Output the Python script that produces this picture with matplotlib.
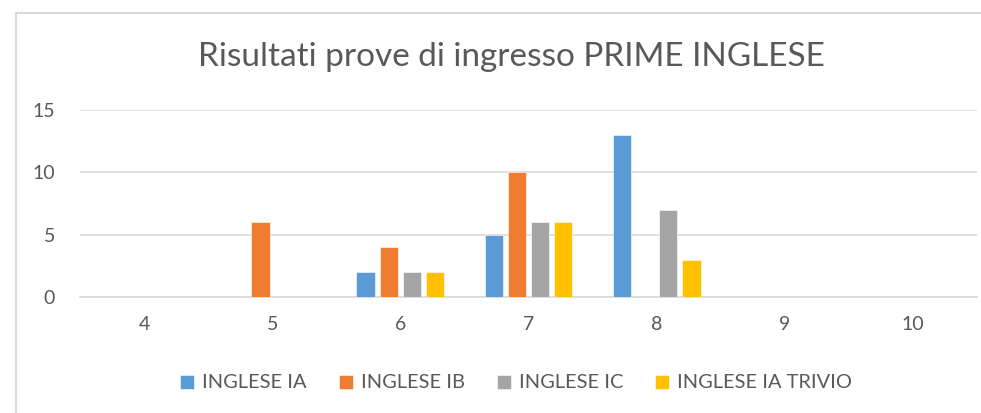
import matplotlib
matplotlib.use("Agg")
import matplotlib.pyplot as plt
import numpy as np
from matplotlib.lines import Line2D

categories = ["4", "5", "6", "7", "8", "9", "10"]
series_names = ["INGLESE IA", "INGLESE IB", "INGLESE IC", "INGLESE IA TRIVIO"]
ia = [0, 0, 2, 5, 13, 0, 0]
ib = [0, 6, 4, 10, 0, 0, 0]
ic = [0, 0, 2, 6, 7, 0, 0]
trivio = [0, 0, 2, 6, 3, 0, 0]
colors = ["#5B9BD5", "#ED7D31", "#A5A5A5", "#FFC000"]
title = "Risultati prove di ingresso PRIME INGLESE"

plt.rcParams['font.family'] = ['Lato', 'DejaVu Sans']

W, H = 981, 413
fig = plt.figure(figsize=(W / 100, H / 100), dpi=100)
fig.patch.set_facecolor("white")

# chart area border (left and top edges visible)
bx, by = 15.5 / W, 1 - 12.5 / H
fig.add_artist(Line2D([bx, bx], [0, by], transform=fig.transFigure,
                      color="#D9D9D9", linewidth=1.5))
fig.add_artist(Line2D([bx, 1], [by, by], transform=fig.transFigure,
                      color="#D9D9D9", linewidth=1.5))

ax = fig.add_axes([80 / W, 1 - 297 / H, (977 - 80) / W, (297 - 110) / H])

x = np.arange(len(categories))
step = 0.18
width = 0.145
data = [ia, ib, ic, trivio]
for i, (vals, name, c) in enumerate(zip(data, series_names, colors)):
    ax.bar(x + (i - 1.5) * step, vals, width=width, color=c, label=name,
           edgecolor="white", linewidth=0.4, zorder=3)

ax.set_xlim(-0.5, len(categories) - 0.5)
ax.set_ylim(0, 15)
ax.set_yticks([0, 5, 10, 15])
ax.set_xticks(x)
ax.set_xticklabels(categories)
ax.yaxis.grid(True, color="#D9D9D9", linewidth=1.2, zorder=0)
ax.set_axisbelow(True)
for s in ["top", "right", "left"]:
    ax.spines[s].set_visible(False)
ax.spines["bottom"].set_color("#D9D9D9")
ax.spines["bottom"].set_linewidth(1.2)
ax.tick_params(axis="both", length=0, labelsize=14, colors="#595959")
ax.tick_params(axis="x", pad=14)
ax.tick_params(axis="y", pad=18)
ax.set_facecolor("none")

fig.text(511 / W, 1 - 57 / H, title, ha="center", va="center",
         fontsize=24, color="#595959")

fig.legend(loc="center", bbox_to_anchor=(516 / W, 1 - 383 / H), ncol=4,
           frameon=False, fontsize=14.4, handlelength=0.7, handleheight=0.7,
           handletextpad=0.4, columnspacing=1.6, labelcolor="#595959")

fig.savefig("out.png", dpi=100, facecolor="white")
